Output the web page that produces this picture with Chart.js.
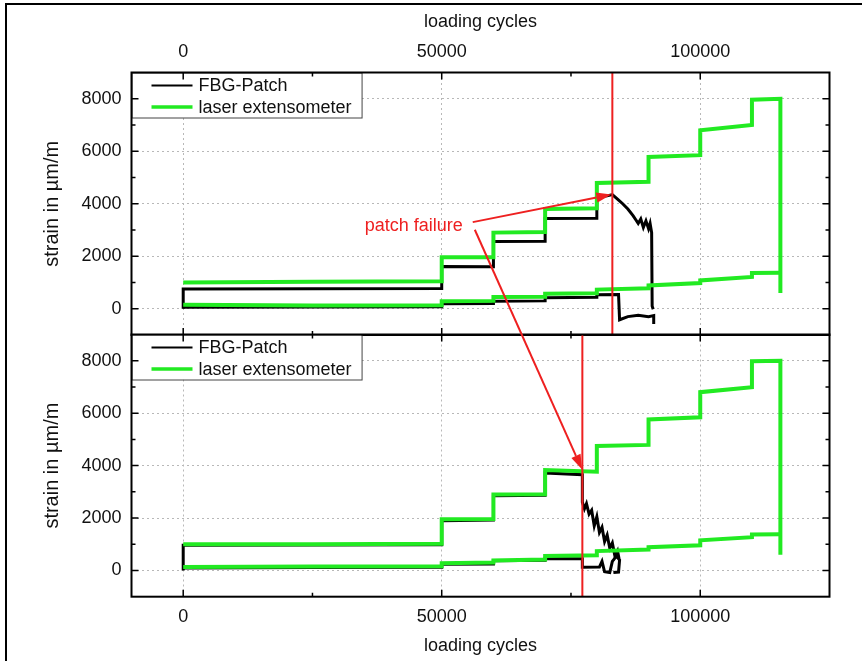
<!DOCTYPE html>
<html>
<head>
<meta charset="utf-8">
<script src="https://cdn.jsdelivr.net/npm/chart.js@4.4.1/dist/chart.umd.min.js"></script>
<style>
  html, body { margin: 0; padding: 0; background: #fff; overflow: hidden; }
  #page { position: relative; width: 862px; height: 661px; overflow: hidden; }
  #frame { position: absolute; left: 5px; top: 3px; width: 900px; height: 700px; border-left: 2px solid #000; border-top: 2px solid #000; }
  canvas { position: absolute; left: 0; top: 0; }
</style>
</head>
<body>
<div id="page">
  <div id="frame"></div>
  <canvas id="topChart" width="862" height="661"></canvas>
  <canvas id="bottomChart" width="862" height="661"></canvas>
  <canvas id="notes" width="862" height="661"></canvas>
</div>
<script>
// axes
const CYCLE_TICKS = [0, 50000, 100000];
const CYCLE_MINOR = [25000, 75000];
const STRAIN_TICKS = [0, 2000, 4000, 6000, 8000];
const STRAIN_MINOR = [1000, 3000, 5000, 7000];
const CYCLE_RANGE = [-10000, 125000];
const STRAIN_RANGE = [-1000, 9000];
const SERIES = ['FBG-Patch', 'laser extensometer'];

// upper panel: [loading cycles, strain]
const fbgUpperA = [[0,0],[0,750],[25000,760],[50000,770],[50000,1610],[60000,1600],[60000,2560],[70000,2570],[70000,3440],[80000,3450],[80000,4250],[82000,4300],[83000,4350],[84000,4180],[85000,4000],[86000,3800],[87000,3550],[87500,3400],[88000,3250],[88500,3420],[89000,3100],[89500,3350],[90000,3050],[90300,3250],[90600,2900],[90700,100],[90900,-20]];
const fbgLowerA = [[0,60],[25000,70],[50000,80],[50000,190],[60000,200],[60000,290],[70000,300],[70000,420],[80000,440],[80000,530],[84200,540],[84400,-420],[86000,-300],[88000,-250],[90000,-300],[91000,-260],[91000,-580]];
const laserUpperA = [[0,1000],[25000,1030],[50000,1050],[50000,1960],[60000,1960],[60000,2900],[70000,2920],[70000,3800],[80000,3830],[80000,4790],[90000,4840],[90000,5780],[100000,5850],[100000,6800],[110000,7000],[110000,7960],[115500,8000],[115500,600]];
const laserLowerA = [[0,150],[25000,120],[50000,130],[50000,290],[60000,300],[60000,450],[70000,460],[70000,570],[80000,590],[80000,730],[90000,780],[90000,890],[100000,980],[100000,1080],[110000,1210],[110000,1360],[115500,1370]];

// lower panel
const fbgUpperB = [[0,0],[0,960],[25000,970],[50000,980],[50000,1900],[60000,1920],[60000,2850],[70000,2870],[70000,3720],[77200,3650],[77200,2600],[77600,2350],[78000,2550],[78500,2150],[79000,2300],[79500,1700],[80000,2050],[80500,1450],[81000,1650],[81500,1100],[82000,1350],[82500,850],[83000,1050],[83500,550],[84000,750],[84300,450]];
const fbgLowerB = [[0,90],[25000,110],[50000,120],[50000,240],[60000,250],[60000,370],[70000,390],[70000,460],[77200,450],[77200,120],[80500,130],[81000,350],[81500,-50],[82500,-80],[83000,350],[83800,550],[84400,400],[84200,-60],[83200,-80]];
const laserUpperB = [[0,1000],[25000,1000],[50000,1020],[50000,1950],[60000,1960],[60000,2900],[70000,2910],[70000,3830],[80000,3770],[80000,4750],[90000,4790],[90000,5760],[100000,5840],[100000,6800],[110000,6990],[110000,7980],[115500,8000],[115500,600]];
const laserLowerB = [[0,130],[25000,150],[50000,160],[50000,280],[60000,300],[60000,380],[70000,420],[70000,550],[80000,580],[80000,740],[90000,800],[90000,890],[100000,960],[100000,1150],[110000,1270],[110000,1370],[115500,1380]];

// failure markers and annotation anchors (data space)
const FAILURE_A = 83000;
const FAILURE_B = 77200;
const NOTE_TEXT = 'patch failure';
const NOTE_AT = [44600, 3170];
const ARROW_A = [[56000, 3300], [82800, 4350]];
const ARROW_B = [[56400, 3010], [77150, 3850]];

const BLACK = '#000';
const GREEN = '#22ea22';
const RED = '#ee2020';
const FONT = "'Liberation Sans', Arial, sans-serif";

Chart.defaults.font.family = FONT;
Chart.defaults.color = '#111';

const toPoints = pairs => pairs.map(([x, y]) => ({ x, y }));

function panelDatasets(fbgUp, fbgLow, laserUp, laserLow, failureAt) {
  const line = (data, color, width) => ({
    data: toPoints(data), borderColor: color, borderWidth: width,
    pointRadius: 0, tension: 0, fill: false
  });
  return [
    line([[failureAt, STRAIN_RANGE[0]], [failureAt, STRAIN_RANGE[1]]], RED, 2),
    line(laserUp, GREEN, 4),
    line(laserLow, GREEN, 4),
    line(fbgUp, BLACK, 3),
    line(fbgLow, BLACK, 3)
  ];
}

const boxLegend = {
  id: 'boxLegend',
  afterDatasetsDraw(chart) {
    const { ctx, chartArea: a } = chart;
    const items = [[SERIES[0], BLACK], [SERIES[1], GREEN]];
    ctx.save();
    ctx.font = '18px ' + FONT;
    const textW = Math.max(...items.map(i => ctx.measureText(i[0]).width));
    const w = 67 + textW + 10, h = 45;
    ctx.fillStyle = '#fff';
    ctx.fillRect(a.left, a.top, w, h);
    ctx.strokeStyle = '#444';
    ctx.lineWidth = 1;
    ctx.strokeRect(a.left + 0.5, a.top + 0.5, w, h);
    items.forEach(([label, color], i) => {
      const y = a.top + 13 + i * 21.5;
      ctx.strokeStyle = color;
      ctx.lineWidth = color === GREEN ? 3.5 : 2;
      ctx.beginPath();
      ctx.moveTo(a.left + 20, y);
      ctx.lineTo(a.left + 61, y);
      ctx.stroke();
      ctx.fillStyle = '#111';
      ctx.textBaseline = 'middle';
      ctx.fillText(label, a.left + 67, y + 1);
    });
    ctx.restore();
  }
};

const framePlugin = {
  id: 'frame',
  afterDraw(chart) {
    const { ctx, chartArea: a, scales: { x, y } } = chart;
    ctx.save();
    ctx.strokeStyle = '#000';
    ctx.lineWidth = 1.5;
    ctx.beginPath();
    const xTick = (v, len) => {
      const p = x.getPixelForValue(v);
      ctx.moveTo(p, a.top); ctx.lineTo(p, a.top + len);
      ctx.moveTo(p, a.bottom); ctx.lineTo(p, a.bottom - len);
    };
    const yTick = (v, len) => {
      const p = y.getPixelForValue(v);
      ctx.moveTo(a.left, p); ctx.lineTo(a.left + len, p);
      ctx.moveTo(a.right, p); ctx.lineTo(a.right - len, p);
    };
    CYCLE_TICKS.forEach(v => xTick(v, 7));
    CYCLE_MINOR.forEach(v => xTick(v, 4));
    STRAIN_TICKS.forEach(v => yTick(v, 7));
    STRAIN_MINOR.forEach(v => yTick(v, 4));
    ctx.stroke();
    ctx.lineWidth = 2;
    ctx.strokeRect(a.left, a.top, a.right - a.left, a.bottom - a.top);
    ctx.restore();
  }
};

function makePanel(id, datasets, xPos, padding, xHeight) {
  const yWidth = 131.5 - padding.left;
  return new Chart(document.getElementById(id), {
    type: 'line',
    data: { datasets },
    options: {
      responsive: false,
      animation: false,
      events: [],
      layout: { padding },
      plugins: { legend: { display: false }, tooltip: { enabled: false } },
      scales: {
        x: {
          type: 'linear', position: xPos,
          min: CYCLE_RANGE[0], max: CYCLE_RANGE[1],
          afterBuildTicks: s => { s.ticks = CYCLE_TICKS.map(value => ({ value })); },
          afterFit: s => { s.height = xHeight; },
          grid: { color: '#b8b8b8', lineWidth: 1, drawTicks: false },
          border: { display: false, dash: [2, 3] },
          ticks: { font: { size: 18 }, padding: 10, maxRotation: 0, autoSkip: false, callback: v => String(v) },
          title: { display: true, text: 'loading cycles', font: { size: 18 }, padding: { top: 4, bottom: 4 } }
        },
        y: {
          type: 'linear', position: 'left',
          min: STRAIN_RANGE[0], max: STRAIN_RANGE[1],
          afterBuildTicks: s => { s.ticks = STRAIN_TICKS.map(value => ({ value })); },
          afterFit: s => { s.width = yWidth; },
          grid: { color: '#b8b8b8', lineWidth: 1, drawTicks: false },
          border: { display: false, dash: [2, 3] },
          ticks: { font: { size: 18 }, padding: 10, callback: v => String(v) },
          title: { display: true, text: 'strain in µm/m', font: { size: 20 }, padding: { top: 4, bottom: 4 } }
        }
      }
    },
    plugins: [boxLegend, framePlugin]
  });
}

const topChart = makePanel('topChart',
  panelDatasets(fbgUpperA, fbgLowerA, laserUpperA, laserLowerA, FAILURE_A),
  'top', { left: 36, top: 7, right: 32.5, bottom: 326 }, 65.5);

const bottomChart = makePanel('bottomChart',
  panelDatasets(fbgUpperB, fbgLowerB, laserUpperB, laserLowerB, FAILURE_B),
  'bottom', { left: 36, top: 334.5, right: 32.5, bottom: 0 }, 64.3);

// annotation layer, placed through the chart scales
const notes = document.getElementById('notes').getContext('2d');
const toPx = (chart, [vx, vy]) => [chart.scales.x.getPixelForValue(vx), chart.scales.y.getPixelForValue(vy)];

function arrow(ctx, from, to) {
  const [x1, y1] = from, [x2, y2] = to;
  const ang = Math.atan2(y2 - y1, x2 - x1);
  const head = 15, half = 5;
  const bx = x2 - head * Math.cos(ang), by = y2 - head * Math.sin(ang);
  ctx.beginPath();
  ctx.moveTo(x1, y1);
  ctx.lineTo(bx, by);
  ctx.stroke();
  ctx.beginPath();
  ctx.moveTo(x2, y2);
  ctx.lineTo(bx + half * Math.sin(ang), by - half * Math.cos(ang));
  ctx.lineTo(bx - half * Math.sin(ang), by + half * Math.cos(ang));
  ctx.closePath();
  ctx.fill();
}

notes.strokeStyle = RED;
notes.fillStyle = RED;
notes.lineWidth = 2;
arrow(notes, toPx(topChart, ARROW_A[0]), toPx(topChart, ARROW_A[1]));
arrow(notes, toPx(topChart, ARROW_B[0]), toPx(bottomChart, ARROW_B[1]));
const [nx, ny] = toPx(topChart, NOTE_AT);
notes.font = '18px ' + FONT;
notes.textAlign = 'center';
notes.textBaseline = 'middle';
notes.fillText(NOTE_TEXT, nx, ny);
</script>
</body>
</html>
